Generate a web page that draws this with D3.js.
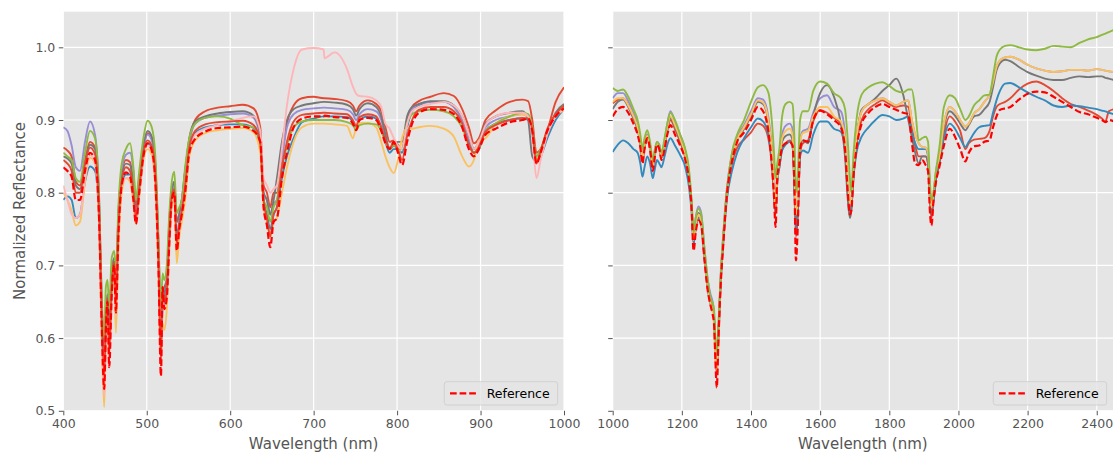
<!DOCTYPE html>
<html><head><meta charset="utf-8">
<script src="https://cdn.jsdelivr.net/npm/d3@7"></script>
<style>body{margin:0;background:#fff}svg{display:block}text{font-family:"DejaVu Sans",sans-serif}</style>
</head><body><svg id="c" width="1116" height="454"></svg>
<script>
// ---------- data ----------
const YTICKS = [0.5, 0.6, 0.7, 0.8, 0.9, 1.0];
const LEFT_XTICKS = [400, 500, 600, 700, 800, 900, 1000];
const RIGHT_XTICKS = [1000, 1200, 1400, 1600, 1800, 2000, 2200, 2400];

const LW = [400,405,410,415,420,426,432,438,443,446,
449,451,453,455,458,461,463,466,470,475,
480,484,487,491,496,501,506,510,514,517,
519,521,524,527,530,533,536,539,542,546,
551,558,570,585,600,615,628,636,640,644,
648,652,656,662,668,676,686,700,712,713,
725,740,747,751,755,765,775,781,786,791,
796,801,806,812,818,826,840,856,868,878,
886,892,898,906,918,935,950,957,962,967,
972,980,990,1000];

const L_RED1 = [0.862,0.858,0.85,0.815,0.81,0.845,0.87,0.862,0.78,0.64,
0.57,0.62,0.66,0.62,0.68,0.71,0.67,0.76,0.825,0.845,
0.842,0.81,0.78,0.815,0.86,0.882,0.875,0.84,0.72,0.60,
0.66,0.67,0.68,0.75,0.80,0.812,0.76,0.77,0.785,0.82,
0.87,0.90,0.912,0.917,0.919,0.921,0.916,0.89,0.81,0.80,
0.78,0.80,0.80,0.85,0.895,0.92,0.93,0.932,0.93,0.93,
0.929,0.926,0.92,0.912,0.92,0.927,0.922,0.912,0.89,0.87,
0.872,0.866,0.86,0.90,0.918,0.926,0.932,0.937,0.933,0.915,
0.89,0.868,0.875,0.90,0.913,0.925,0.928,0.926,0.90,0.855,
0.86,0.885,0.925,0.945];
const L_BLUE = [0.79,0.795,0.79,0.765,0.77,0.815,0.836,0.83,0.76,0.63,
0.56,0.62,0.65,0.60,0.67,0.70,0.65,0.75,0.81,0.825,
0.825,0.80,0.77,0.80,0.85,0.868,0.86,0.83,0.71,0.59,
0.64,0.65,0.665,0.74,0.79,0.80,0.74,0.76,0.775,0.81,
0.86,0.882,0.89,0.893,0.894,0.894,0.889,0.865,0.79,0.77,
0.75,0.77,0.78,0.82,0.85,0.875,0.897,0.902,0.905,0.905,
0.905,0.904,0.898,0.889,0.9,0.905,0.902,0.89,0.87,0.855,
0.86,0.86,0.855,0.89,0.912,0.92,0.925,0.925,0.918,0.90,
0.872,0.855,0.86,0.885,0.895,0.90,0.902,0.90,0.88,0.845,
0.85,0.875,0.90,0.915];
const L_PURPLE = [0.89,0.885,0.865,0.835,0.83,0.87,0.898,0.88,0.79,0.65,
0.58,0.62,0.66,0.62,0.69,0.71,0.67,0.77,0.83,0.852,
0.855,0.83,0.79,0.82,0.86,0.88,0.872,0.84,0.73,0.62,
0.65,0.66,0.68,0.75,0.80,0.81,0.76,0.77,0.79,0.83,
0.87,0.895,0.903,0.906,0.908,0.909,0.903,0.875,0.80,0.79,
0.77,0.785,0.79,0.845,0.89,0.908,0.914,0.916,0.917,0.917,
0.916,0.914,0.908,0.90,0.908,0.915,0.912,0.90,0.875,0.86,
0.865,0.86,0.86,0.895,0.915,0.922,0.925,0.925,0.918,0.90,
0.875,0.86,0.865,0.89,0.90,0.905,0.908,0.905,0.885,0.845,
0.855,0.885,0.908,0.918];
const L_GRAY = [0.85,0.847,0.84,0.81,0.805,0.84,0.866,0.86,0.78,0.65,
0.58,0.63,0.66,0.62,0.69,0.71,0.67,0.77,0.82,0.84,
0.838,0.81,0.785,0.82,0.865,0.885,0.877,0.845,0.73,0.62,
0.65,0.66,0.68,0.76,0.805,0.815,0.76,0.77,0.79,0.83,
0.875,0.898,0.905,0.909,0.911,0.912,0.906,0.88,0.80,0.79,
0.77,0.79,0.82,0.87,0.90,0.915,0.92,0.923,0.925,0.925,
0.924,0.921,0.915,0.906,0.915,0.923,0.918,0.905,0.88,0.86,
0.865,0.87,0.87,0.905,0.918,0.922,0.926,0.926,0.92,0.905,
0.88,0.86,0.87,0.895,0.905,0.91,0.912,0.90,0.85,0.843,
0.855,0.88,0.91,0.922];
const L_YELLOW = [0.80,0.79,0.775,0.755,0.76,0.815,0.848,0.84,0.75,0.60,
0.505,0.60,0.63,0.57,0.65,0.69,0.607,0.72,0.80,0.82,
0.815,0.785,0.757,0.795,0.845,0.86,0.852,0.81,0.69,0.57,
0.62,0.611,0.64,0.72,0.78,0.79,0.703,0.74,0.76,0.79,
0.85,0.872,0.882,0.886,0.888,0.889,0.883,0.855,0.78,0.76,
0.74,0.76,0.765,0.80,0.835,0.87,0.89,0.895,0.895,0.895,
0.894,0.892,0.875,0.89,0.896,0.896,0.89,0.87,0.85,0.835,
0.827,0.845,0.875,0.889,0.888,0.89,0.892,0.888,0.877,0.85,
0.836,0.845,0.872,0.875,0.895,0.905,0.908,0.905,0.885,0.845,
0.855,0.885,0.905,0.914];
const L_GREEN = [0.855,0.85,0.845,0.82,0.815,0.855,0.885,0.875,0.79,0.66,
0.60,0.67,0.68,0.64,0.71,0.72,0.69,0.78,0.84,0.86,
0.868,0.835,0.79,0.83,0.875,0.899,0.89,0.855,0.74,0.64,
0.689,0.68,0.70,0.77,0.815,0.829,0.772,0.78,0.79,0.835,
0.875,0.895,0.903,0.905,0.902,0.893,0.89,0.87,0.79,0.78,
0.76,0.78,0.79,0.835,0.865,0.89,0.898,0.90,0.9,0.9,
0.9,0.897,0.893,0.886,0.893,0.895,0.894,0.885,0.87,0.86,
0.865,0.86,0.86,0.895,0.908,0.912,0.914,0.912,0.905,0.89,
0.865,0.855,0.862,0.885,0.895,0.905,0.91,0.908,0.89,0.85,
0.86,0.885,0.905,0.92];
const L_PINK = [0.81,0.79,0.77,0.765,0.77,0.82,0.852,0.84,0.76,0.61,
0.52,0.60,0.64,0.57,0.66,0.70,0.63,0.74,0.81,0.82,
0.82,0.79,0.76,0.80,0.85,0.865,0.857,0.82,0.70,0.56,
0.65,0.64,0.655,0.73,0.79,0.80,0.73,0.75,0.775,0.81,
0.86,0.88,0.888,0.893,0.898,0.903,0.905,0.885,0.82,0.81,
0.80,0.805,0.81,0.86,0.92,0.97,0.997,0.999,0.997,0.985,
0.993,0.97,0.946,0.936,0.933,0.932,0.927,0.918,0.895,0.888,
0.875,0.865,0.86,0.895,0.912,0.918,0.922,0.925,0.92,0.905,
0.88,0.86,0.87,0.893,0.905,0.91,0.91,0.905,0.88,0.82,
0.845,0.88,0.905,0.915];
const L_RED2 = [0.845,0.84,0.83,0.80,0.80,0.84,0.862,0.853,0.77,0.63,
0.55,0.62,0.655,0.58,0.67,0.705,0.65,0.75,0.815,0.835,
0.83,0.80,0.765,0.805,0.855,0.872,0.864,0.83,0.71,0.57,
0.67,0.65,0.665,0.74,0.795,0.805,0.73,0.755,0.775,0.81,
0.862,0.885,0.894,0.897,0.898,0.899,0.893,0.87,0.79,0.765,
0.74,0.77,0.78,0.835,0.87,0.898,0.907,0.909,0.91,0.91,
0.909,0.908,0.90,0.892,0.904,0.908,0.905,0.89,0.872,0.862,
0.868,0.86,0.845,0.878,0.90,0.914,0.918,0.918,0.912,0.895,
0.866,0.855,0.863,0.884,0.893,0.90,0.903,0.902,0.887,0.84,
0.857,0.888,0.908,0.92];
const L_REF = [0.835,0.83,0.822,0.79,0.79,0.83,0.855,0.845,0.76,0.62,
0.53,0.61,0.65,0.56,0.66,0.70,0.635,0.74,0.81,0.828,
0.822,0.79,0.757,0.80,0.85,0.868,0.858,0.82,0.70,0.548,
0.67,0.64,0.655,0.73,0.79,0.80,0.72,0.75,0.77,0.80,
0.855,0.874,0.884,0.889,0.89,0.891,0.885,0.87,0.78,0.755,
0.725,0.76,0.765,0.82,0.855,0.89,0.902,0.905,0.905,0.906,
0.904,0.903,0.895,0.886,0.9,0.903,0.9,0.885,0.868,0.86,
0.87,0.855,0.838,0.87,0.895,0.91,0.915,0.914,0.908,0.89,
0.86,0.85,0.86,0.88,0.888,0.897,0.9,0.902,0.885,0.84,
0.855,0.885,0.905,0.916];

const RW = [1000,1015,1030,1045,1060,1072,1080,1086,1092,1100,
1108,1116,1122,1128,1135,1141,1150,1158,1167,1180,
1195,1210,1220,1228,1234,1240,1248,1256,1265,1275,
1283,1288,1293,1297,1301,1306,1312,1320,1330,1345,
1360,1380,1400,1420,1435,1450,1460,1466,1471,1476,
1482,1490,1500,1512,1520,1526,1530,1535,1542,1550,
1565,1580,1600,1620,1640,1660,1672,1680,1686,1690,
1696,1705,1720,1740,1760,1780,1800,1820,1840,1855,
1865,1875,1885,1895,1905,1912,1918,1922,1928,1935,
1945,1958,1975,1990,2005,2020,2030,2045,2060,2075,
2090,2100,2110,2120,2135,2150,2175,2200,2225,2250,
2275,2300,2325,2350,2375,2400,2415,2425,2435,2450];

const R_RED = [0.923,0.928,0.93,0.92,0.903,0.888,0.868,0.845,0.862,0.876,
0.86,0.835,0.853,0.866,0.861,0.848,0.864,0.885,0.9,0.888,
0.87,0.848,0.822,0.782,0.73,0.752,0.766,0.758,0.713,0.668,
0.648,0.64,0.625,0.58,0.55,0.6,0.672,0.733,0.795,0.84,
0.862,0.873,0.883,0.895,0.892,0.875,0.84,0.8,0.77,0.815,
0.835,0.86,0.868,0.872,0.866,0.805,0.74,0.765,0.855,0.868,
0.872,0.898,0.914,0.91,0.903,0.895,0.865,0.805,0.772,0.778,
0.82,0.865,0.9,0.915,0.922,0.927,0.922,0.918,0.92,0.918,
0.89,0.865,0.85,0.85,0.85,0.84,0.785,0.765,0.79,0.818,
0.84,0.88,0.905,0.898,0.885,0.86,0.868,0.873,0.874,0.875,
0.885,0.905,0.918,0.922,0.925,0.93,0.942,0.95,0.953,0.948,
0.94,0.93,0.922,0.918,0.913,0.907,0.902,0.898,0.912,0.915];
const R_BLUE = [0.856,0.866,0.872,0.868,0.86,0.855,0.84,0.822,0.835,0.85,
0.84,0.82,0.833,0.845,0.84,0.835,0.85,0.866,0.875,0.865,
0.852,0.835,0.81,0.775,0.73,0.75,0.765,0.758,0.712,0.668,
0.647,0.64,0.625,0.585,0.56,0.605,0.675,0.735,0.79,0.83,
0.855,0.875,0.89,0.902,0.898,0.88,0.845,0.81,0.775,0.815,
0.835,0.858,0.866,0.87,0.865,0.8,0.75,0.77,0.85,0.858,
0.855,0.88,0.898,0.898,0.888,0.884,0.86,0.8,0.775,0.78,
0.82,0.855,0.877,0.89,0.9,0.907,0.905,0.9,0.902,0.905,
0.884,0.868,0.86,0.86,0.86,0.85,0.8,0.775,0.79,0.82,
0.842,0.875,0.895,0.888,0.875,0.863,0.87,0.882,0.89,0.892,
0.893,0.91,0.927,0.94,0.95,0.951,0.945,0.938,0.932,0.927,
0.92,0.918,0.92,0.919,0.917,0.915,0.913,0.912,0.91,0.908];
const R_PURPLE = [0.93,0.937,0.937,0.926,0.91,0.893,0.872,0.85,0.868,0.88,
0.866,0.84,0.858,0.87,0.866,0.852,0.872,0.895,0.912,0.898,
0.88,0.858,0.83,0.79,0.74,0.765,0.781,0.772,0.725,0.68,
0.66,0.652,0.635,0.595,0.568,0.615,0.685,0.745,0.805,0.853,
0.877,0.893,0.912,0.93,0.928,0.905,0.865,0.825,0.785,0.83,
0.85,0.88,0.892,0.895,0.888,0.825,0.77,0.79,0.872,0.885,
0.888,0.91,0.93,0.934,0.918,0.912,0.88,0.82,0.785,0.79,
0.83,0.875,0.912,0.922,0.927,0.93,0.925,0.92,0.925,0.927,
0.9,0.88,0.868,0.863,0.862,0.855,0.8,0.78,0.8,0.83,
0.85,0.895,0.918,0.912,0.9,0.891,0.895,0.909,0.915,0.925,
0.935,0.952,0.973,0.982,0.986,0.987,0.983,0.976,0.971,0.968,
0.966,0.967,0.969,0.969,0.968,0.97,0.969,0.968,0.967,0.966];
const R_GRAY = [0.915,0.925,0.928,0.918,0.902,0.887,0.868,0.845,0.862,0.876,
0.86,0.835,0.853,0.867,0.862,0.848,0.866,0.888,0.903,0.89,
0.872,0.85,0.823,0.785,0.735,0.757,0.772,0.763,0.718,0.672,
0.65,0.643,0.628,0.59,0.565,0.61,0.68,0.74,0.8,0.848,
0.872,0.888,0.905,0.925,0.922,0.898,0.858,0.815,0.775,0.82,
0.842,0.87,0.878,0.88,0.872,0.81,0.76,0.78,0.86,0.872,
0.868,0.905,0.937,0.948,0.932,0.895,0.85,0.79,0.765,0.775,
0.82,0.87,0.914,0.922,0.93,0.94,0.948,0.957,0.935,0.9,
0.877,0.855,0.84,0.85,0.85,0.84,0.79,0.77,0.795,0.825,
0.845,0.89,0.912,0.906,0.895,0.886,0.893,0.905,0.907,0.915,
0.925,0.945,0.968,0.978,0.983,0.981,0.973,0.966,0.961,0.957,
0.955,0.955,0.958,0.96,0.959,0.96,0.96,0.958,0.957,0.955];
const R_YELLOW = [0.925,0.93,0.93,0.92,0.905,0.89,0.87,0.848,0.865,0.878,
0.862,0.837,0.855,0.868,0.863,0.85,0.868,0.89,0.905,0.893,
0.875,0.852,0.825,0.785,0.735,0.755,0.77,0.76,0.715,0.67,
0.648,0.64,0.62,0.575,0.556,0.6,0.68,0.74,0.8,0.848,
0.873,0.89,0.908,0.927,0.924,0.9,0.86,0.82,0.78,0.82,
0.845,0.875,0.885,0.888,0.88,0.82,0.77,0.79,0.87,0.882,
0.885,0.905,0.918,0.918,0.905,0.898,0.875,0.82,0.785,0.79,
0.83,0.875,0.912,0.922,0.927,0.93,0.925,0.92,0.925,0.927,
0.9,0.88,0.868,0.863,0.862,0.855,0.8,0.78,0.8,0.83,
0.85,0.895,0.918,0.912,0.9,0.891,0.895,0.909,0.915,0.925,
0.935,0.952,0.973,0.982,0.986,0.987,0.983,0.976,0.971,0.968,
0.966,0.967,0.969,0.969,0.968,0.97,0.969,0.968,0.967,0.966];
const R_GREEN = [0.944,0.94,0.942,0.932,0.915,0.9,0.88,0.86,0.875,0.886,
0.87,0.845,0.86,0.87,0.865,0.855,0.875,0.895,0.91,0.9,
0.88,0.86,0.835,0.79,0.745,0.765,0.778,0.77,0.725,0.68,
0.655,0.65,0.64,0.6,0.58,0.62,0.68,0.74,0.8,0.855,
0.88,0.9,0.925,0.945,0.948,0.938,0.9,0.86,0.82,0.84,
0.86,0.905,0.922,0.925,0.922,0.87,0.8,0.82,0.9,0.912,
0.912,0.94,0.953,0.95,0.937,0.93,0.915,0.87,0.82,0.8,
0.85,0.9,0.935,0.945,0.95,0.952,0.947,0.94,0.938,0.942,
0.942,0.914,0.872,0.875,0.877,0.87,0.81,0.79,0.8,0.83,
0.863,0.918,0.934,0.93,0.915,0.9,0.905,0.92,0.927,0.934,
0.935,0.96,0.987,0.997,1.002,1.003,1.0,0.997,0.996,0.998,
1.002,1.001,1.0,1.006,1.011,1.014,1.017,1.019,1.021,1.024];
const R_REF = [0.905,0.915,0.918,0.91,0.895,0.88,0.862,0.84,0.86,0.875,
0.86,0.83,0.85,0.866,0.86,0.845,0.86,0.88,0.893,0.88,
0.865,0.845,0.82,0.78,0.72,0.745,0.762,0.755,0.71,0.665,
0.645,0.635,0.62,0.57,0.532,0.6,0.67,0.73,0.795,0.843,
0.87,0.883,0.9,0.918,0.912,0.885,0.84,0.8,0.753,0.82,
0.84,0.862,0.868,0.87,0.865,0.8,0.707,0.75,0.86,0.872,
0.87,0.9,0.913,0.908,0.9,0.89,0.86,0.8,0.77,0.775,
0.82,0.86,0.895,0.91,0.918,0.922,0.918,0.914,0.91,0.908,
0.87,0.84,0.838,0.845,0.838,0.83,0.77,0.755,0.79,0.815,
0.836,0.865,0.888,0.877,0.86,0.843,0.855,0.864,0.865,0.87,
0.872,0.89,0.905,0.914,0.916,0.918,0.928,0.936,0.939,0.938,
0.932,0.925,0.918,0.911,0.908,0.903,0.9,0.897,0.9,0.898];

// ---------- drawing ----------
const svg = d3.select('#c');
const C = {red:'#E24A33', blue:'#348ABD', purple:'#988ED5', gray:'#777777', yellow:'#FBC15E', green:'#8EBA42', pink:'#FFB5B8'};
const y = d3.scaleLinear().domain([0.5, 1.049]).range([410.8, 11.7]);

const panels = [
  {id:'L', x0:63.3, x1:564, dom:[400,1000], ticks:LEFT_XTICKS, w:LW, ylab:true,
   series:[[L_RED1,C.red],[L_BLUE,C.blue],[L_PURPLE,C.purple],[L_GRAY,C.gray],[L_YELLOW,C.yellow],[L_GREEN,C.green],[L_PINK,C.pink],[L_RED2,C.red]],
   ref:L_REF},
  {id:'R', x0:612.7, x1:1113, dom:[1000,2447], ticks:RIGHT_XTICKS, w:RW, ylab:false,
   series:[[R_RED,C.red],[R_BLUE,C.blue],[R_PURPLE,C.purple],[R_GRAY,C.gray],[R_YELLOW,C.yellow],[R_GREEN,C.green]],
   ref:R_REF}
];

panels.forEach(p => {
  const x = d3.scaleLinear().domain(p.dom).range([p.x0, p.x1]);
  const top = y.range()[1], bot = y.range()[0];
  svg.append('rect').attr('x', p.x0).attr('y', top).attr('width', p.x1 - p.x0).attr('height', bot - top).attr('fill', '#E5E5E5');
  const g = svg.append('g');
  g.selectAll('.gx').data(p.ticks).join('line')
    .attr('x1', d => x(d)).attr('x2', d => x(d)).attr('y1', top).attr('y2', bot)
    .attr('stroke', '#fff').attr('stroke-width', 1.2);
  g.selectAll('.gy').data(YTICKS).join('line')
    .attr('x1', p.x0).attr('x2', p.x1).attr('y1', d => y(d)).attr('y2', d => y(d))
    .attr('stroke', '#fff').attr('stroke-width', 1.2);
  svg.append('clipPath').attr('id', 'clip' + p.id).append('rect')
    .attr('x', p.x0).attr('y', top).attr('width', p.x1 - p.x0).attr('height', bot - top);
  const lg = svg.append('g').attr('clip-path', `url(#clip${p.id})`);
  const line = d3.line().x((d, i) => x(p.w[i])).y(d => y(d)).curve(d3.curveMonotoneX);
  p.series.forEach(([vals, col]) => {
    lg.append('path').attr('d', line(vals)).attr('fill', 'none').attr('stroke', col)
      .attr('stroke-width', 1.9).attr('stroke-linejoin', 'round');
  });
  lg.append('path').attr('d', line(p.ref)).attr('fill', 'none').attr('stroke', '#FF0000')
    .attr('stroke-width', 2.2).attr('stroke-dasharray', '6.7,2.9');
  const xa = svg.append('g').attr('transform', `translate(0,${bot})`)
    .call(d3.axisBottom(x).tickValues(p.ticks).tickFormat(d3.format('d')).tickSize(4.5).tickPadding(3.5).tickSizeOuter(0));
  xa.select('.domain').remove();
  xa.selectAll('line').attr('stroke', '#555555').attr('stroke-width', 1);
  xa.selectAll('text').attr('fill', '#555555').style('font-size', '12.5px').style('font-family', '"DejaVu Sans",sans-serif');
  const ya = svg.append('g').attr('transform', `translate(${p.x0},0)`)
    .call(d3.axisLeft(y).tickValues(YTICKS).tickFormat(d3.format('.1f')).tickSize(4.5).tickPadding(3.5).tickSizeOuter(0));
  ya.select('.domain').remove();
  ya.selectAll('line').attr('stroke', '#555555').attr('stroke-width', 1);
  ya.selectAll('text').attr('fill', '#555555').style('font-size', '12.5px').style('font-family', '"DejaVu Sans",sans-serif');
  if (!p.ylab) ya.selectAll('text').remove();
  svg.append('text').attr('x', (p.x0 + p.x1) / 2).attr('y', 448.5).attr('text-anchor', 'middle')
    .attr('fill', '#555555').style('font-size', '15px').text('Wavelength (nm)');
  const lx = p.x1 - 119.7, ly = bot - 29.1;
  const leg = svg.append('g');
  leg.append('rect').attr('x', lx).attr('y', ly).attr('width', 113.4).attr('height', 23.3).attr('rx', 2.5)
    .attr('fill', '#E5E5E5').attr('fill-opacity', 0.8).attr('stroke', '#CCCCCC').attr('stroke-width', 0.8);
  leg.append('line').attr('x1', lx + 5.7).attr('x2', lx + 32.4).attr('y1', ly + 11.6).attr('y2', ly + 11.6)
    .attr('stroke', '#FF0000').attr('stroke-width', 2.2).attr('stroke-dasharray', '6.7,2.9');
  leg.append('text').attr('x', lx + 42.4).attr('y', ly + 16.2).attr('fill', '#000')
    .style('font-size', '12.5px').text('Reference');
});
svg.append('text').attr('transform', 'translate(24.5,211) rotate(-90)').attr('text-anchor', 'middle')
  .attr('fill', '#555555').style('font-size', '15px').text('Normalized Reflectance');
</script></body></html>
